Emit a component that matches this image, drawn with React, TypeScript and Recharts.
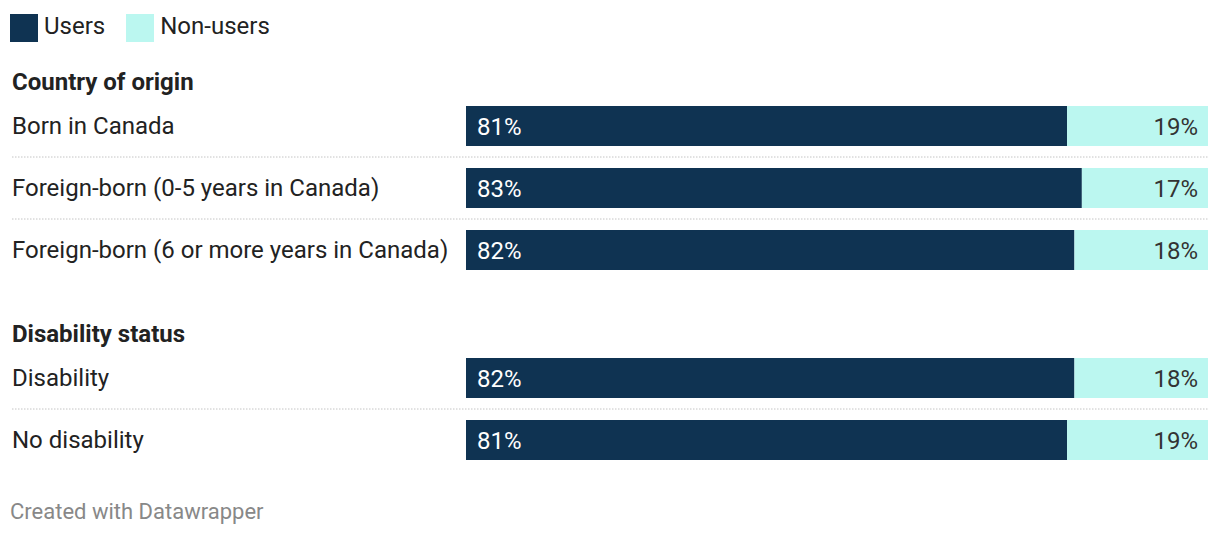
import { BarChart, Bar, XAxis, YAxis, LabelList } from 'recharts';

const originLabels = ['Born in Canada', 'Foreign-born (0-5 years in Canada)', 'Foreign-born (6 or more years in Canada)'];
const originUsers = [81, 83, 82];
const originNonUsers = [19, 17, 18];

const disabilityLabels = ['Disability', 'No disability'];
const disabilityUsers = [82, 81];
const disabilityNonUsers = [18, 19];

const NAVY = '#0f3352';
const MINT = '#bbf7f0';
const FONT = 'Roboto, "Noto Sans", sans-serif';

const pct = (v: any) => `${v}%`;

const build = (labels: string[], users: number[], non: number[]) =>
  labels.map((name, i) => ({ name, users: users[i], nonUsers: non[i] }));

const makeTick = (count: number) => (props: any) => {
  const { y, payload, index } = props;
  return (
    <g>
      <text x={12} y={y} dy={8} fontSize={24} fill="#222" fontFamily={FONT} textAnchor="start">
        {payload.value}
      </text>
      {index < count - 1 && (
        <line x1={12} x2={1208} y1={y + 31} y2={y + 31} stroke="#c4c4c4" strokeWidth={1} strokeDasharray="1.5 1.5" />
      )}
    </g>
  );
};

const GroupChart = ({ labels, users, non, top }: { labels: string[]; users: number[]; non: number[]; top: number }) => {
  const data = build(labels, users, non);
  return (
    <div style={{ position: 'absolute', left: 0, top }}>
      <BarChart
        width={1220}
        height={labels.length * 62}
        data={data}
        layout="vertical"
        margin={{ top: 0, right: 12, bottom: 0, left: 12 }}
      >
        <XAxis type="number" domain={[0, 100]} hide />
        <YAxis
          type="category"
          dataKey="name"
          width={454}
          axisLine={false}
          tickLine={false}
          interval={0}
          tick={makeTick(labels.length)}
        />
        <Bar dataKey="users" stackId="a" fill={NAVY} barSize={40} isAnimationActive={false}>
          <LabelList dataKey="users" position="insideLeft" offset={11} formatter={pct} fill="#fff" fontSize={24} fontFamily={FONT} />
        </Bar>
        <Bar dataKey="nonUsers" stackId="a" fill={MINT} barSize={40} isAnimationActive={false}>
          <LabelList dataKey="nonUsers" position="insideRight" offset={10} formatter={pct} fill="#333" fontSize={24} fontFamily={FONT} />
        </Bar>
      </BarChart>
    </div>
  );
};

const heading: React.CSSProperties = {
  position: 'absolute',
  left: 12,
  fontSize: 24,
  fontWeight: 700,
  color: '#222',
  lineHeight: '28px',
};

export default function App() {
  return (
    <div style={{ position: 'absolute', left: 0, top: 0, width: 1220, height: 538, background: '#fff', fontFamily: FONT, overflow: 'hidden' }}>
      <div style={{ position: 'absolute', left: 10, top: 14, display: 'flex', alignItems: 'center', fontSize: 24, color: '#222', lineHeight: '28px' }}>
        <span style={{ width: 28, height: 28, background: NAVY, display: 'inline-block', marginRight: 6 }} />
        <span style={{ marginRight: 21, position: 'relative', top: -2 }}>Users</span>
        <span style={{ width: 28, height: 28, background: MINT, display: 'inline-block', marginRight: 6 }} />
        <span style={{ position: 'relative', top: -2 }}>Non-users</span>
      </div>
      <div style={{ ...heading, top: 68 }}>Country of origin</div>
      <GroupChart labels={originLabels} users={originUsers} non={originNonUsers} top={95} />
      <div style={{ ...heading, top: 320 }}>Disability status</div>
      <GroupChart labels={disabilityLabels} users={disabilityUsers} non={disabilityNonUsers} top={347} />
      <div style={{ position: 'absolute', left: 10, top: 499, fontSize: 22, color: '#888', lineHeight: '26px' }}>
        Created with Datawrapper
      </div>
    </div>
  );
}
